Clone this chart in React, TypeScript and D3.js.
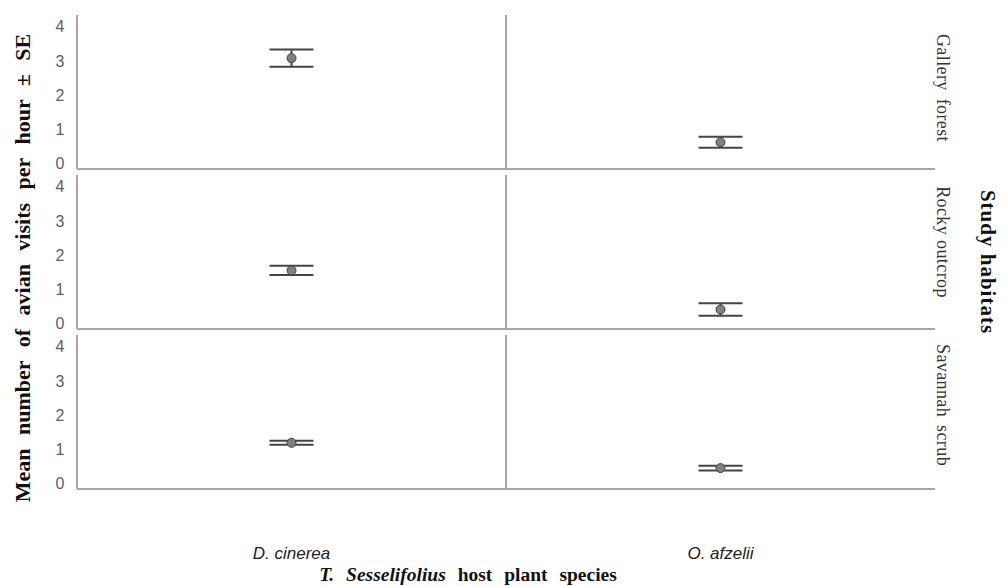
import React from "react";
import * as d3 from "d3";

const species = ["D. cinerea", "O. afzelii"];
const habitats = ["Gallery forest", "Rocky outcrop", "Savannah scrub"];
const dCinereaMean = [3.09, 1.56, 1.2];
const dCinereaSE = [0.25, 0.135, 0.06];
const oAfzeliiMean = [0.63, 0.42, 0.46];
const oAfzeliiSE = [0.16, 0.18, 0.07];
const yTicks = [0, 1, 2, 3, 4];

const W = 1006;
const H = 586;
const left = 77;
const right = 935;
const panelTops = [15, 175, 335];
const panelH = 154;
const labelCenters = [88, 242, 405];

const serif = "'Liberation Serif', 'Times New Roman', serif";
const sans = "'Liberation Sans', Arial, sans-serif";

export default function App() {
  const x = d3.scaleBand<string>().domain(species).range([left, right]).padding(0);
  const means = [dCinereaMean, oAfzeliiMean];
  const ses = [dCinereaSE, oAfzeliiSE];
  const capHalf = 22;

  return (
    <svg
      width={W}
      height={H}
      style={{ position: "absolute", left: 0, top: 0, background: "#fff" }}
    >
      <rect x={0} y={0} width={W} height={H} fill="#fff" />
      {habitats.map((hab, hi) => {
        const top = panelTops[hi];
        const y = d3.scaleLinear().domain([-0.15, 4.35]).range([top + panelH, top]);
        return (
          <g key={hab}>
            {yTicks.map((t) => (
              <text
                key={t}
                x={60}
                y={y(t)}
                textAnchor="middle"
                dominantBaseline="central"
                fontFamily={sans}
                fontSize={16}
                fill="#606060"
              >
                {t}
              </text>
            ))}
            {species.map((sp, si) => {
              const x0 = x(sp)!;
              const cx = x0 + x.bandwidth() / 2;
              const m = means[si][hi];
              const se = ses[si][hi];
              return (
                <g key={sp}>
                  <line x1={x0} x2={x0} y1={top} y2={top + panelH} stroke="#a6a6a6" strokeWidth={2} />
                  <line
                    x1={x0}
                    x2={x0 + x.bandwidth()}
                    y1={top + panelH}
                    y2={top + panelH}
                    stroke="#a6a6a6"
                    strokeWidth={2}
                  />
                  <line x1={cx} x2={cx} y1={y(m + se)} y2={y(m - se)} stroke="#444" strokeWidth={2} />
                  <line x1={cx - capHalf} x2={cx + capHalf} y1={y(m + se)} y2={y(m + se)} stroke="#444" strokeWidth={2} />
                  <line x1={cx - capHalf} x2={cx + capHalf} y1={y(m - se)} y2={y(m - se)} stroke="#444" strokeWidth={2} />
                  <circle cx={cx} cy={y(m)} r={4.5} fill="#808080" stroke="#404040" strokeWidth={1} />
                </g>
              );
            })}
            <text
              transform={`translate(943, ${labelCenters[hi]}) rotate(90)`}
              textAnchor="middle"
              dominantBaseline="central"
              fontFamily={serif}
              fontSize={18}
              fill="#333"
              style={{ wordSpacing: hi === 1 ? "0px" : "3px", letterSpacing: "0.4px" }}
            >
              {hab}
            </text>
          </g>
        );
      })}
      {species.map((sp) => (
        <text
          key={sp}
          x={x(sp)! + x.bandwidth() / 2}
          y={559}
          textAnchor="middle"
          fontFamily={sans}
          fontStyle="italic"
          fontSize={17}
          fill="#222"
        >
          {sp}
        </text>
      ))}
      <text
        transform={`translate(22, 268) rotate(-90)`}
        textAnchor="middle"
        dominantBaseline="central"
        fontFamily={serif}
        fontWeight="bold"
        fontSize={22}
        fill="#111"
        style={{ wordSpacing: "8px" }}
      >
        Mean number of avian visits per hour ± SE
      </text>
      <text
        transform={`translate(988, 262) rotate(90)`}
        textAnchor="middle"
        dominantBaseline="central"
        fontFamily={serif}
        fontWeight="bold"
        fontSize={21}
        fill="#111"
        style={{ letterSpacing: "1px" }}
      >
        Study habitats
      </text>
      <text
        x={468}
        y={581}
        textAnchor="middle"
        fontFamily={serif}
        fontWeight="bold"
        fontSize={19.5}
        fill="#111"
        style={{ wordSpacing: "7px" }}
      >
        <tspan fontStyle="italic">T. Sesselifolius</tspan> host plant species
      </text>
    </svg>
  );
}
